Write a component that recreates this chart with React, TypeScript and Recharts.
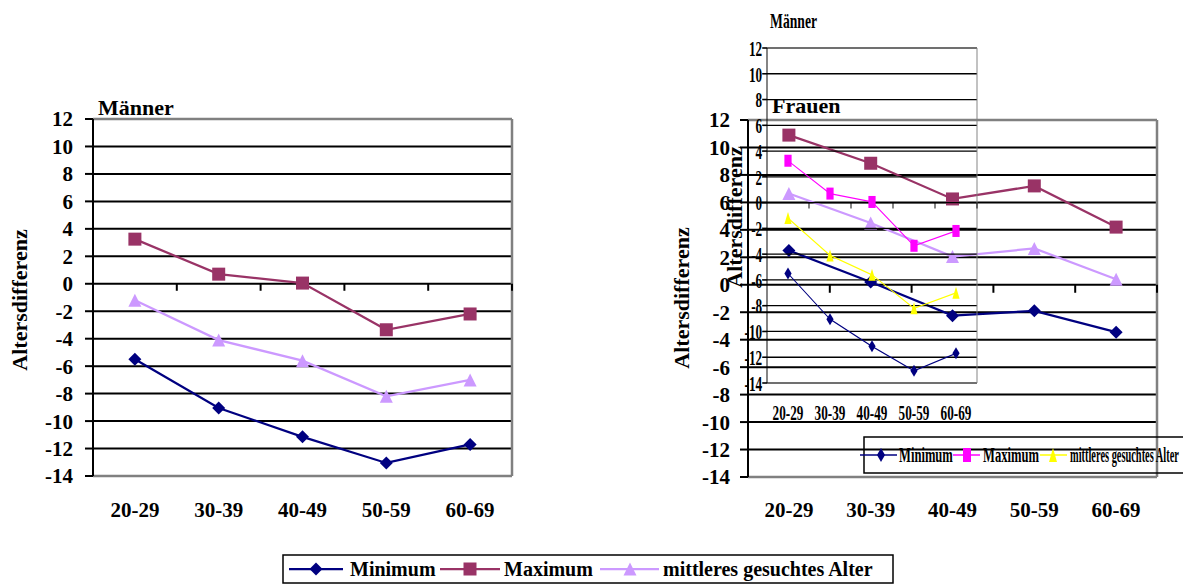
import React from "react";
import { LineChart, Line, XAxis, YAxis, CartesianGrid } from "recharts";

const FONT = '"Liberation Serif", "Times New Roman", serif';

const categories = ["20-29", "30-39", "40-49", "50-59", "60-69"];
const yTicks = [-14, -12, -10, -8, -6, -4, -2, 0, 2, 4, 6, 8, 10, 12];

// Männer
const maennerMin = [-5.5, -9.05, -11.15, -13.05, -11.7];
const maennerMax = [3.25, 0.7, 0.05, -3.35, -2.2];
const maennerMittel = [-1.2, -4.1, -5.6, -8.2, -7.0];

// Frauen
const frauenMin = [2.5, 0.2, -2.25, -1.9, -3.45];
const frauenMax = [10.9, 8.85, 6.25, 7.2, 4.2];
const frauenMittel = [6.65, 4.5, 2.05, 2.65, 0.4];

const seriesNames = ["Minimum", "Maximum", "mittleres gesuchtes Alter"];

const buildRows = (mn: number[], mx: number[], mi: number[]) =>
  categories.map((c, i) => ({ cat: c, min: mn[i], max: mx[i], mittel: mi[i] }));

const maennerRows = buildRows(maennerMin, maennerMax, maennerMittel);
const frauenRows = buildRows(frauenMin, frauenMax, frauenMittel);

type Shape = "diamond" | "square" | "triangle";
type Series = { key: string; name: string; color: string; shape: Shape };

const mainSeries: Series[] = [
  { key: "min", name: seriesNames[0], color: "#000080", shape: "diamond" },
  { key: "max", name: seriesNames[1], color: "#993366", shape: "square" },
  { key: "mittel", name: seriesNames[2], color: "#CC99FF", shape: "triangle" },
];

// the squeezed copy of the Männer chart sitting inside the Frauen panel
const insetSeries: Series[] = [
  { key: "min", name: seriesNames[0], color: "#000080", shape: "diamond" },
  { key: "max", name: seriesNames[1], color: "#FF00FF", shape: "square" },
  { key: "mittel", name: seriesNames[2], color: "#FFFF00", shape: "triangle" },
];

function marker(shape: Shape, cx: number, cy: number, w: number, h: number, color: string, key?: string | number) {
  const hw = w / 2;
  const hh = h / 2;
  if (shape === "diamond") {
    return (
      <polygon key={key} points={`${cx},${cy - hh} ${cx + hw},${cy} ${cx},${cy + hh} ${cx - hw},${cy}`} fill={color} />
    );
  }
  if (shape === "square") {
    return <rect key={key} x={cx - hw} y={cy - hh} width={w} height={h} fill={color} />;
  }
  return (
    <polygon key={key} points={`${cx},${cy - hh} ${cx + hw},${cy + hh} ${cx - hw},${cy + hh}`} fill={color} />
  );
}

const makeDot = (shape: Shape, color: string, w: number, h: number) => (props: any) => {
  const { cx, cy, index } = props;
  if (cx == null || cy == null) return <g key={`e${index}`} />;
  return marker(shape, cx, cy, w, h, color, `d${index}`);
};

interface PanelProps {
  width: number;
  height: number;
  margin: { top: number; right: number; left: number; bottom: number };
  yAxisWidth: number;
  xAxisHeight: number;
  data: any[];
  series: Series[];
  fontSize: number;
  gridWidth: number;
  borderWidth: number;
  axisWidth: number;
  tickMargin: number;
  labelDy: number;
  zeroTickLen: number;
  lineWidth: number;
  dotSize: number;
}

function Panel(p: PanelProps) {
  const plotW = p.width - p.margin.left - p.margin.right - p.yAxisWidth;
  const plotH = p.height - p.margin.top - p.margin.bottom - p.xAxisHeight;
  const top = p.margin.top;
  const bottom = top + plotH;
  const right = p.margin.left + p.yAxisWidth + plotW;
  const band = plotW / categories.length;
  const yMax = yTicks[yTicks.length - 1];
  const yMin = yTicks[0];
  const zeroY = top + (plotH * yMax) / (yMax - yMin);

  // labels sit under the plot, tick marks sit on the zero line between categories
  const XTick = (props: any) => {
    const { x, payload } = props;
    return (
      <g>
        <line x1={x + band / 2} x2={x + band / 2} y1={zeroY} y2={zeroY + p.zeroTickLen} stroke="#000" strokeWidth={p.axisWidth} />
        <text x={x} y={bottom + p.labelDy} textAnchor="middle" fontSize={p.fontSize} fontWeight="bold" fontFamily={FONT} fill="#000">
          {payload.value}
        </text>
      </g>
    );
  };

  return (
    <LineChart width={p.width} height={p.height} data={p.data} margin={p.margin}>
      <CartesianGrid vertical={false} stroke="#000" strokeWidth={p.gridWidth} />
      <CartesianGrid horizontalPoints={[top, bottom]} verticalPoints={[right]} stroke="#808080" strokeWidth={p.borderWidth} />
      <XAxis
        dataKey="cat"
        height={p.xAxisHeight}
        axisLine={false}
        tickLine={false}
        interval={0}
        padding={{ left: band / 2, right: band / 2 }}
        tick={XTick}
      />
      <YAxis
        width={p.yAxisWidth}
        domain={[yMin, yMax]}
        ticks={yTicks}
        interval={0}
        tickSize={8}
        tickMargin={p.tickMargin}
        axisLine={{ stroke: "#000", strokeWidth: p.axisWidth }}
        tickLine={{ stroke: "#000", strokeWidth: p.axisWidth }}
        tick={{ fill: "#000", fontSize: p.fontSize, fontWeight: "bold", fontFamily: FONT }}
      />
      {p.series.map((s) => (
        <Line
          key={s.key}
          dataKey={s.key}
          name={s.name}
          type="linear"
          stroke={s.color}
          strokeWidth={p.lineWidth}
          dot={makeDot(s.shape, s.color, p.dotSize, p.dotSize)}
          activeDot={false}
          isAnimationActive={false}
        />
      ))}
    </LineChart>
  );
}

type LegendEntry = { series: Series; x1: number; x2: number; mx: number; tx: number; squeeze?: number };

function LegendRow({ entries, cy, baseline, squeeze, mw, mh, lineWidth }: {
  entries: LegendEntry[]; cy: number; baseline: number; squeeze: number; mw: number; mh: number; lineWidth: number;
}) {
  return (
    <g>
      {entries.map((e, i) => (
        <g key={i}>
          <line x1={e.x1} x2={e.x2} y1={cy} y2={cy} stroke={e.series.color} strokeWidth={lineWidth} />
          {marker(e.series.shape, e.mx, cy, mw, mh, e.series.color)}
          <text
            transform={`translate(${e.tx},${baseline}) scale(${e.squeeze ?? squeeze},1)`}
            fontSize={20}
            fontWeight="bold"
            fontFamily={FONT}
            fill="#000"
          >
            {e.series.name}
          </text>
        </g>
      ))}
    </g>
  );
}

export default function App() {
  const mainLegend: LegendEntry[] = [
    { series: mainSeries[0], x1: 289, x2: 343, mx: 316, tx: 350 },
    { series: mainSeries[1], x1: 440, x2: 500, mx: 470, tx: 504 },
    { series: mainSeries[2], x1: 600, x2: 659, mx: 630, tx: 663 },
  ];
  const insetLegend: LegendEntry[] = [
    { series: insetSeries[0], x1: 860, x2: 897, mx: 881, tx: 899 },
    { series: insetSeries[1], x1: 953, x2: 980, mx: 967, tx: 983 },
    { series: insetSeries[2], x1: 1040, x2: 1067, mx: 1053, tx: 1070, squeeze: 0.52 },
  ];

  const labelStyle = { fontSize: 22, fontWeight: "bold" as const, fontFamily: FONT, fill: "#000" };

  return (
    <div style={{ position: "absolute", left: 0, top: 0, width: 1183, height: 585, overflow: "hidden", background: "#fff" }}>
      <div style={{ position: "absolute", left: 0, top: 0 }}>
        <Panel
          width={530} height={540}
          margin={{ top: 119, right: 18, left: 0, bottom: 24 }}
          yAxisWidth={93} xAxisHeight={40}
          data={maennerRows} series={mainSeries}
          fontSize={21} gridWidth={2} borderWidth={2.5} axisWidth={2}
          tickMargin={12} labelDy={41} zeroTickLen={7} lineWidth={2.25} dotSize={13}
        />
      </div>

      <div style={{ position: "absolute", left: 660, top: 0 }}>
        <Panel
          width={523} height={540}
          margin={{ top: 120, right: 26, left: 0, bottom: 23 }}
          yAxisWidth={88} xAxisHeight={40}
          data={frauenRows} series={mainSeries}
          fontSize={21} gridWidth={2} borderWidth={2.5} axisWidth={2}
          tickMargin={10} labelDy={40} zeroTickLen={8} lineWidth={2.25} dotSize={13}
        />
      </div>

      <div style={{ position: "absolute", left: 743, top: 0, transform: "scale(0.6, 1)", transformOrigin: "0 0" }}>
        <Panel
          width={400} height={433}
          margin={{ top: 48, right: 10, left: 0, bottom: 10 }}
          yAxisWidth={40} xAxisHeight={40}
          data={maennerRows} series={insetSeries}
          fontSize={22} gridWidth={1.3} borderWidth={1.6} axisWidth={1.6}
          tickMargin={0} labelDy={37} zeroTickLen={6} lineWidth={1.3} dotSize={12}
        />
      </div>

      <svg width={1183} height={585} style={{ position: "absolute", left: 0, top: 0, pointerEvents: "none" }}>
        <text x={98} y={115} {...labelStyle}>Männer</text>
        <text x={772} y={113} {...labelStyle}>Frauen</text>
        <text x={770} y={28} textLength={47} lengthAdjust="spacingAndGlyphs" {...labelStyle}>Männer</text>

        <text transform="translate(19,300) rotate(-90)" textAnchor="middle" dominantBaseline="central" {...labelStyle}>Altersdifferenz</text>
        <text transform="translate(681,298) rotate(-90)" textAnchor="middle" dominantBaseline="central" {...labelStyle}>Altersdifferenz</text>
        <text transform="translate(734,217) rotate(-90)" textAnchor="middle" dominantBaseline="central" {...labelStyle}>Altersdifferenz</text>

        <rect x={864} y={437} width={420} height={36} fill="none" stroke="#000" strokeWidth={1.5} />
        <LegendRow entries={insetLegend} cy={455} baseline={462} squeeze={0.63} mw={8} mh={14} lineWidth={1.5} />

        <rect x={283} y={555} width={610} height={28} fill="#fff" stroke="#000" strokeWidth={1.5} />
        <LegendRow entries={mainLegend} cy={569} baseline={576} squeeze={1} mw={13} mh={13} lineWidth={2.25} />
      </svg>
    </div>
  );
}
